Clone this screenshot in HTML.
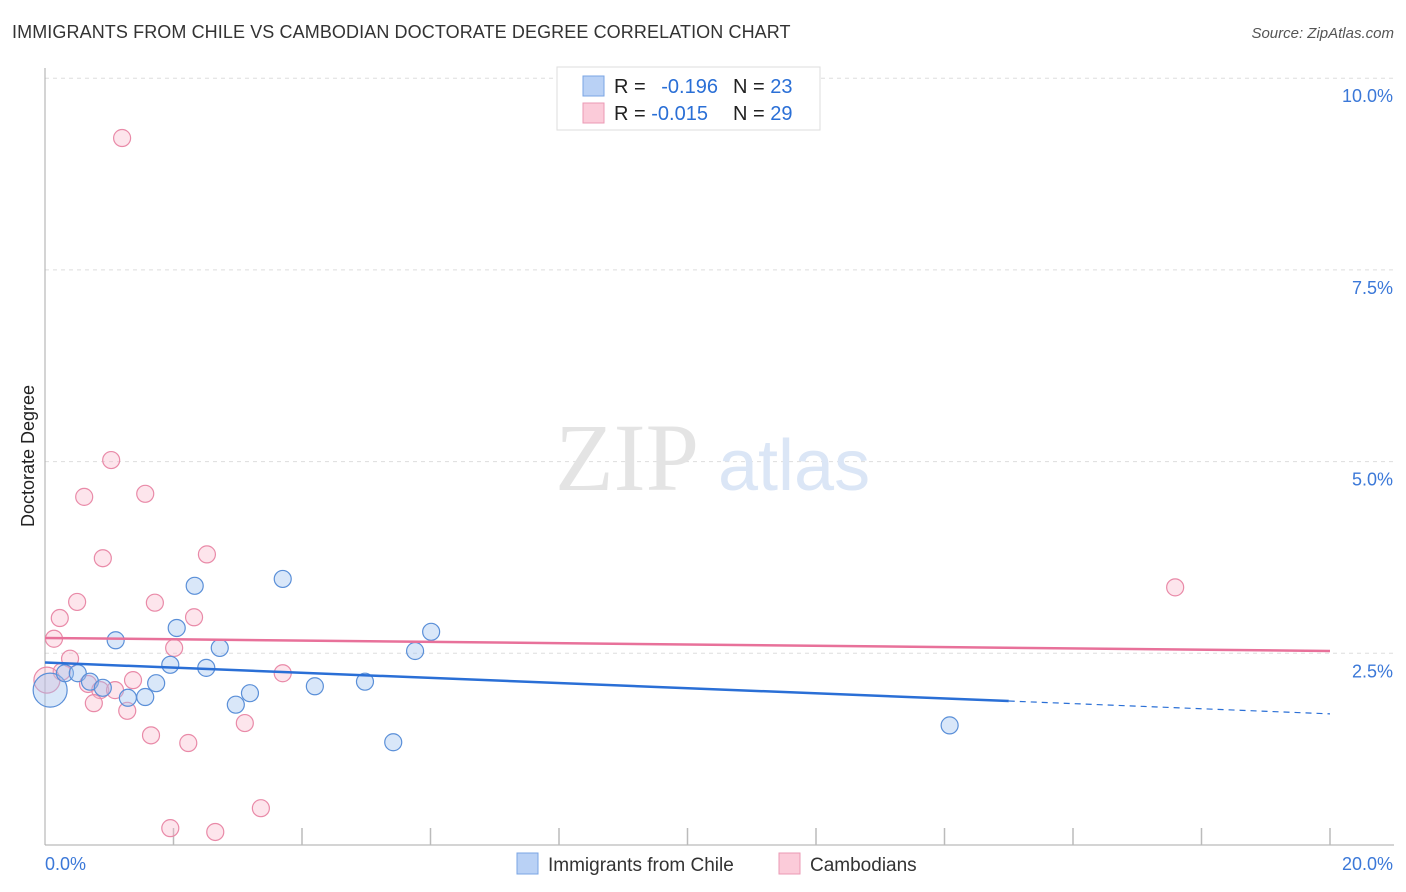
<!DOCTYPE html>
<html><head><meta charset="utf-8"><style>
body{margin:0;background:#fff;font-family:"Liberation Sans",sans-serif;}
#wrap{position:relative;width:1406px;height:892px;overflow:hidden;}
.title{position:absolute;left:12px;top:22px;font-size:18px;color:#333;letter-spacing:0.1px}
.src{position:absolute;right:12px;top:25px;font-size:15px;color:#555;font-style:italic}
</style></head><body>
<div id="wrap">
<div class="title">IMMIGRANTS FROM CHILE VS CAMBODIAN DOCTORATE DEGREE CORRELATION CHART</div>
<div class="src">Source: ZipAtlas.com</div>
<svg id="svg" width="1406" height="892" style="position:absolute;left:0;top:0"></svg>
</div>
<script>
const blueX=[0.08,0.31,0.51,0.70,0.90,1.10,1.29,1.56,1.73,1.95,2.05,2.33,2.51,2.72,2.97,3.19,3.70,4.20,4.98,5.42,5.76,6.01,14.08];
const blueY=[2.02,2.24,2.24,2.13,2.05,2.67,1.92,1.93,2.11,2.35,2.83,3.38,2.31,2.57,1.83,1.98,3.47,2.07,2.13,1.34,2.53,2.78,1.56];
const blueR=[17,8.5,8.5,8.5,8.5,8.5,8.5,8.5,8.5,8.5,8.5,8.5,8.5,8.5,8.5,8.5,8.5,8.5,8.5,8.5,8.5,8.5,8.5];
const pinkX=[1.20,1.03,0.61,1.56,0.90,2.52,0.50,0.23,1.71,2.32,0.14,2.01,0.39,0.26,0.67,0.86,1.09,1.37,0.76,1.28,3.70,1.65,2.23,3.11,3.36,1.95,2.65,17.59,0.03];
const pinkY=[9.22,5.02,4.54,4.58,3.74,3.79,3.17,2.96,3.16,2.97,2.69,2.57,2.43,2.26,2.10,2.02,2.02,2.15,1.85,1.75,2.24,1.43,1.33,1.59,0.48,0.22,0.17,3.36,2.15];
const pinkR=[8.5,8.5,8.5,8.5,8.5,8.5,8.5,8.5,8.5,8.5,8.5,8.5,8.5,8.5,8.5,8.5,8.5,8.5,8.5,8.5,8.5,8.5,8.5,8.5,8.5,8.5,8.5,8.5,13];
const blueTrend=[2.38,1.71];
const blueSolidEnd=15;
const pinkTrend=[2.70,2.53];
const yTicks=[2.5,5.0,7.5,10.0];
const yTickLabels=["2.5%","5.0%","7.5%","10.0%"];
const xTickLabels=["0.0%","20.0%"];
const legendR=["-0.196","-0.015"];
const legendN=["23","29"];

const X0=45,X1=1330,Y0=845,PX_PER=191.7/2.5;
function sx(v){return X0+(X1-X0)*v/20;}
function sy(v){return Y0-v*PX_PER;}
const svg=document.getElementById('svg');
const NS='http://www.w3.org/2000/svg';
function mk(tag,attrs,parent){const e=document.createElementNS(NS,tag);for(const k in attrs)e.setAttribute(k,attrs[k]);(parent||svg).appendChild(e);return e;}

// gridlines
yTicks.forEach((t,i)=>{
  const g=mk('line',{x1:X0,x2:1394,y1:sy(t),y2:sy(t),stroke:'#ddd','stroke-dasharray':'4,4'});
  
  
  const tx=mk('text',{x:1393,y:sy(t)+24,'text-anchor':'end','font-size':18,fill:'#3b78d8','font-family':'Liberation Sans'});
  tx.textContent=yTickLabels[i];
  
  
});
// axes
const ax=mk('line',{x1:X0,x2:X0,y1:68,y2:Y0,stroke:'#aaa'});


const bx=mk('line',{x1:X0,x2:1394,y1:Y0,y2:Y0,stroke:'#aaa'});


for(let i=1;i<=10;i++){
  const t=mk('line',{x1:sx(i*2),x2:sx(i*2),y1:828,y2:Y0,stroke:'#bbb','stroke-width':1.5});
  
  
}
const xl0=mk('text',{x:45,y:870,'font-size':18,fill:'#3b78d8','font-family':'Liberation Sans'});xl0.textContent=xTickLabels[0];


const xl1=mk('text',{x:1393,y:870,'text-anchor':'end','font-size':18,fill:'#3b78d8','font-family':'Liberation Sans'});xl1.textContent=xTickLabels[1];


const yt=mk('text',{transform:'translate(34,456) rotate(-90)','text-anchor':'middle','font-size':18,fill:'#222','font-family':'Liberation Sans'});yt.textContent='Doctorate Degree';


// watermark
const wm=mk('text',{x:555,y:490,'font-size':96,fill:'#e4e4e4','font-family':'Liberation Serif'});wm.textContent='ZIP';


const wm2=mk('text',{x:718,y:490,'font-size':72,fill:'#dbe6f6','font-family':'Liberation Sans'});wm2.textContent='atlas';


// points
function pts(xs,ys,rs,fill,stroke,name){xs.forEach((x,i)=>{
  const c=mk('circle',{cx:sx(x),cy:sy(ys[i]),r:rs[i],fill:fill,stroke:stroke,'stroke-width':1.2});
  
  
});}
pts(pinkX,pinkY,pinkR,'rgba(248,180,200,0.35)','#e98aa8','cambodians-point');
pts(blueX,blueY,blueR,'rgba(160,195,240,0.4)','#5a8fd8','chile-point');
// trends
function trendAt(tr,x){return tr[0]+(tr[1]-tr[0])*x/20;}
const bl=mk('line',{x1:sx(0),y1:sy(trendAt(blueTrend,0)),x2:sx(blueSolidEnd),y2:sy(trendAt(blueTrend,blueSolidEnd)),stroke:'#2a6fd6','stroke-width':2.5});


const bd=mk('line',{x1:sx(blueSolidEnd),y1:sy(trendAt(blueTrend,blueSolidEnd)),x2:sx(20),y2:sy(trendAt(blueTrend,20)),stroke:'#2a6fd6','stroke-width':1.2,'stroke-dasharray':'6,5'});


const pl=mk('line',{x1:sx(0),y1:sy(trendAt(pinkTrend,0)),x2:sx(20),y2:sy(trendAt(pinkTrend,20)),stroke:'#e8719a','stroke-width':2.5});


// legend box
const lb=mk('rect',{x:557,y:67,width:263,height:63,fill:'#fff',stroke:'#ddd'});


const cols=[['#b9d1f5','#7aa5e4'],['#fbcbd9','#eb9ab4']];
[0,1].forEach(i=>{
  const y=86+i*27;
  const s=mk('rect',{x:583,y:y-10,width:21,height:20,fill:cols[i][0],stroke:cols[i][1]});
  
  
  const t=mk('text',{x:614,y:y+7,'font-size':20,fill:'#222','font-family':'Liberation Sans'});
  t.innerHTML='R = <tspan fill="#2a6fd6">'+(i==0?'\u2002':'')+legendR[i]+'</tspan><tspan x="733">N = </tspan><tspan fill="#2a6fd6">'+legendN[i]+'</tspan>';
  
  
});
// bottom legend
const lg=[['Immigrants from Chile',517,548],['Cambodians',779,810]];
lg.forEach((l,i)=>{
  const s=mk('rect',{x:l[1],y:853,width:21,height:21,fill:cols[i][0],stroke:cols[i][1]});
  
  
  const t=mk('text',{x:l[2],y:871,'font-size':19,fill:'#333','font-family':'Liberation Sans'});t.textContent=l[0];
  
  
});
</script>
</body></html>
